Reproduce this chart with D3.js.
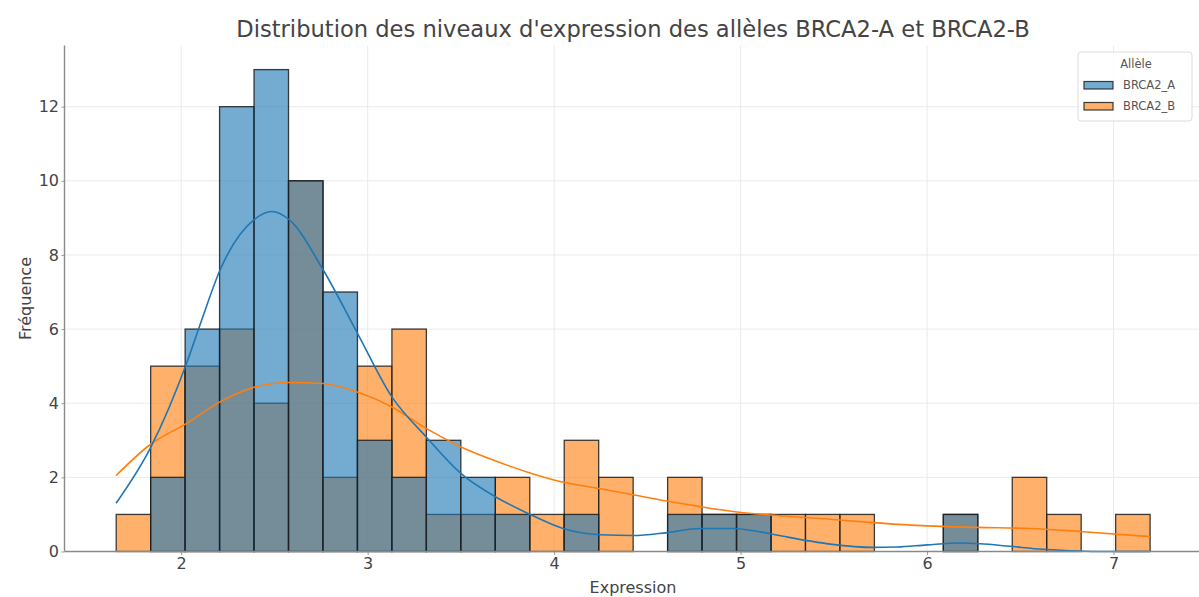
<!DOCTYPE html>
<html>
<head>
<meta charset="utf-8">
<script src="https://cdn.jsdelivr.net/npm/d3@7.9.0/dist/d3.min.js"></script>
<style>
  body { margin: 0; background: #fff; }
  svg { font-family: "DejaVu Sans", sans-serif; }
</style>
</head>
<body>
<svg id="chart" width="1199" height="597"></svg>
<script>
// histogram bins (shared by both alleles)
const binMin = 1.6515;
const binMax = 7.196;
const binCount = 30;

const countsA = [0, 2, 6, 12, 13, 10, 7, 3, 2, 3, 2, 1, 0, 1, 0, 0, 1, 1, 1, 0, 0, 0, 0, 0, 1, 0, 0, 0, 0, 0];
const countsB = [1, 5, 5, 6, 4, 10, 2, 5, 6, 1, 1, 2, 1, 3, 2, 0, 2, 1, 1, 1, 1, 1, 0, 0, 1, 0, 2, 1, 0, 1];

// KDE curves (expression, count scale)
const kdeA = [
  [1.651, 1.3], [1.838, 2.82], [2.027, 5.05], [2.107, 6.2], [2.209, 7.6],
  [2.391, 8.95], [2.486, 9.17], [2.579, 8.95], [2.761, 7.6], [2.944, 5.9],
  [3.130, 4.17], [3.314, 3.09], [3.501, 2.1], [3.687, 1.47], [3.871, 1.0],
  [4.048, 0.62], [4.247, 0.45], [4.424, 0.43], [4.606, 0.51], [4.783, 0.62],
  [4.960, 0.62], [5.105, 0.53], [5.228, 0.41], [5.480, 0.2], [5.710, 0.11],
  [5.839, 0.12], [6.0, 0.18], [6.177, 0.23], [6.284, 0.21], [6.445, 0.14],
  [6.622, 0.06], [6.767, 0.02], [6.912, 0.0], [7.196, 0.0]
];
const kdeB = [
  [1.651, 2.05], [1.838, 2.9], [2.027, 3.45], [2.213, 4.05], [2.391, 4.43],
  [2.579, 4.56], [2.761, 4.53], [2.944, 4.3], [3.130, 3.9], [3.314, 3.32],
  [3.501, 2.82], [3.687, 2.44], [3.871, 2.12], [4.032, 1.89], [4.229, 1.71],
  [4.424, 1.53], [4.604, 1.36], [4.783, 1.21], [4.960, 1.08], [5.140, 0.99],
  [5.480, 0.87], [5.710, 0.78], [5.998, 0.69], [6.266, 0.65], [6.552, 0.62],
  [6.820, 0.54], [7.196, 0.40]
];

const xTicks = [2, 3, 4, 5, 6, 7];
const yTicks = [0, 2, 4, 6, 8, 10, 12];
const alleles = ["BRCA2_A", "BRCA2_B"];
const colors = ["#1f77b4", "#ff7f0e"];

const svg = d3.select("#chart");

const pad = (binMax - binMin) * 0.05;
const x = d3.scaleLinear().domain([binMin - pad, binMax + pad]).range([64.5, 1201.8]);
const y = d3.scaleLinear().domain([0, 13.65]).range([551.5, 45.5]);

const binW = (binMax - binMin) / binCount;
const bins = d3.range(binCount).map((i) => ({
  x0: binMin + i * binW,
  x1: binMin + (i + 1) * binW,
  a: countsA[i],
  b: countsB[i],
}));

// grid
svg.append("g")
  .selectAll("line")
  .data(xTicks)
  .join("line")
  .attr("x1", (d) => x(d)).attr("x2", (d) => x(d))
  .attr("y1", y.range()[1]).attr("y2", y.range()[0])
  .attr("stroke", "#ebebeb");

svg.append("g")
  .selectAll("line")
  .data(yTicks)
  .join("line")
  .attr("x1", x.range()[0]).attr("x2", 1199)
  .attr("y1", (d) => y(d)).attr("y2", (d) => y(d))
  .attr("stroke", "#ebebeb");

// bars: orange first, blue layered on top
function drawBars(key, color) {
  svg.append("g")
    .selectAll("rect")
    .data(bins.filter((d) => d[key] > 0))
    .join("rect")
    .attr("x", (d) => x(d.x0))
    .attr("width", (d) => x(d.x1) - x(d.x0))
    .attr("y", (d) => y(d[key]))
    .attr("height", (d) => y(0) - y(d[key]))
    .attr("fill", color)
    .attr("fill-opacity", 0.62)
    .attr("stroke", "#1c1c1c")
    .attr("stroke-opacity", 0.85)
    .attr("stroke-width", 1.3);
}
drawBars("b", colors[1]);
drawBars("a", colors[0]);

// kde lines
const line = d3.line()
  .x((d) => x(d[0]))
  .y((d) => y(d[1]))
  .curve(d3.curveMonotoneX);

svg.append("path").datum(kdeB).attr("d", line)
  .attr("fill", "none").attr("stroke", colors[1]).attr("stroke-width", 1.6);
svg.append("path").datum(kdeA).attr("d", line)
  .attr("fill", "none").attr("stroke", colors[0]).attr("stroke-width", 1.6);

// axes
const xAxis = svg.append("g")
  .attr("transform", `translate(0,${y(0)})`)
  .call(d3.axisBottom(x).tickValues(xTicks).tickFormat(d3.format("d")).tickSize(3.5).tickPadding(3));
const yAxis = svg.append("g")
  .attr("transform", `translate(${x.range()[0]},0)`)
  .call(d3.axisLeft(y).tickValues(yTicks).tickSize(3).tickPadding(2.5));

[xAxis, yAxis].forEach((g) => {
  g.select(".domain").remove();
  g.selectAll(".tick line").attr("stroke", "#999");
  g.selectAll(".tick text")
    .attr("fill", "#444")
    .style("font-size", "16px")
    .style("font-family", "DejaVu Sans, sans-serif");
});

// spines
svg.append("line")
  .attr("x1", x.range()[0]).attr("x2", x.range()[0])
  .attr("y1", y.range()[1]).attr("y2", y(0))
  .attr("stroke", "#8a8a8a").attr("stroke-width", 1.4);
svg.append("line")
  .attr("x1", x.range()[0]).attr("x2", 1199)
  .attr("y1", y(0)).attr("y2", y(0))
  .attr("stroke", "#8a8a8a").attr("stroke-width", 1.4);

// labels
svg.append("text")
  .attr("x", 633).attr("y", 37)
  .attr("text-anchor", "middle")
  .attr("fill", "#444")
  .style("font-size", "22.6px")
  .text("Distribution des niveaux d'expression des allèles BRCA2-A et BRCA2-B");

svg.append("text")
  .attr("x", 633).attr("y", 593)
  .attr("text-anchor", "middle")
  .attr("fill", "#444")
  .style("font-size", "16px")
  .text("Expression");

svg.append("text")
  .attr("transform", `translate(31,${(y.range()[0] + y.range()[1]) / 2}) rotate(-90)`)
  .attr("text-anchor", "middle")
  .attr("fill", "#444")
  .style("font-size", "16px")
  .text("Fréquence");

// legend
const legend = svg.append("g").attr("transform", "translate(1078,52)");
legend.append("rect")
  .attr("width", 114).attr("height", 69)
  .attr("rx", 3)
  .attr("fill", "#fff").attr("fill-opacity", 0.85)
  .attr("stroke", "#dcdcdc");
legend.append("text")
  .attr("x", 58).attr("y", 15.5)
  .attr("text-anchor", "middle")
  .attr("fill", "#555")
  .style("font-size", "11.5px")
  .text("Allèle");
alleles.forEach((name, i) => {
  const row = legend.append("g").attr("transform", `translate(0,${33 + i * 21})`);
  row.append("rect")
    .attr("x", 6).attr("y", -3.5)
    .attr("width", 29).attr("height", 7.5)
    .attr("fill", colors[i]).attr("fill-opacity", 0.62)
    .attr("stroke", "#1c1c1c").attr("stroke-opacity", 0.85).attr("stroke-width", 1.2);
  row.append("text")
    .attr("x", 45).attr("y", 4)
    .attr("fill", "#555")
    .style("font-size", "11.5px")
    .text(name);
});
</script>
</body>
</html>
